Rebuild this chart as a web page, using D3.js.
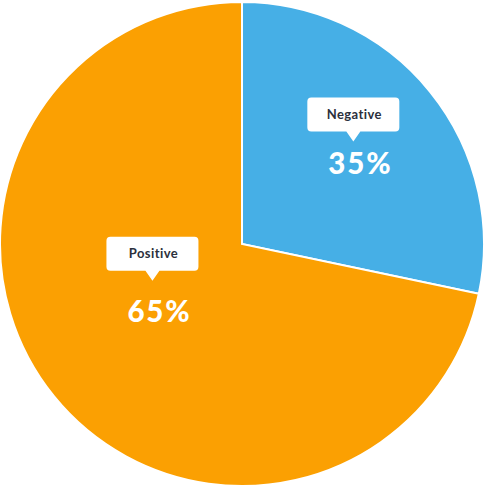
<!DOCTYPE html>
<html><head><meta charset="utf-8">
<script src="https://cdn.jsdelivr.net/npm/d3@7"></script>
<style>html,body{margin:0;padding:0;background:#fff;}svg{display:block;}</style>
</head><body>
<svg id="chart" width="486" height="489"></svg>
<script>
const categories = ["Negative", "Positive"];
const sliceValues = [28.3, 71.7];
const percentLabels = ["35%", "65%"];
const colors = ["#46afe6", "#fba002"];
// label anchor (pointer tip) in polar form: angle in degrees clockwise from top, radius fraction
const labelAngles = [47.4, 247.7];
const labelRadii = [0.625, 0.40];
const percentGaps = [32.5, 41.5];

const W = 486, H = 489;
const cx = 242, cy = 244, R = 242;
const svg = d3.select("#chart");
const g = svg.append("g").attr("transform", `translate(${cx},${cy})`);

const data = categories.map((c, i) => ({cat: c, value: sliceValues[i], pct: percentLabels[i], color: colors[i], la: labelAngles[i], lr: labelRadii[i], gap: percentGaps[i]}));
const pie = d3.pie().value(d => d.value).sort(null);
const arc = d3.arc().innerRadius(0).outerRadius(R);

g.selectAll("path.slice").data(pie(data)).enter().append("path")
  .attr("class", "slice")
  .attr("d", arc)
  .attr("fill", d => d.data.color)
  .attr("stroke", "#fff").attr("stroke-width", 2).attr("stroke-linejoin", "miter");

const rScale = d3.scaleLinear().domain([0, 1]).range([0, R]);
const labels = g.selectAll("g.lab").data(data).enter().append("g").attr("class", "lab")
  .attr("transform", d => {
    const a = d.la * Math.PI / 180, r = rScale(d.lr);
    return `translate(${r * Math.sin(a)},${-r * Math.cos(a)})`;
  });
const bw = 92, bh = 34, ph = 10, pw = 7;
labels.append("path")
  .attr("d", () => {
    const top = -ph - bh, bot = -ph, l = -bw / 2, rr = bw / 2, c = 4;
    return `M${l + c},${top} H${rr - c} Q${rr},${top} ${rr},${top + c} V${bot - c} Q${rr},${bot} ${rr - c},${bot} H${pw} L0,0 L${-pw},${bot} H${l + c} Q${l},${bot} ${l},${bot - c} V${top + c} Q${l},${top} ${l + c},${top} Z`;
  })
  .attr("fill", "#fff");
labels.append("text")
  .attr("x", 1).attr("y", -ph - bh / 2 + 4.5)
  .attr("text-anchor", "middle")
  .attr("font-family", "Lato, 'Open Sans', sans-serif")
  .attr("font-weight", 700).attr("font-size", 13)
  .attr("letter-spacing", 0.4)
  .attr("fill", "#2b303c")
  .text(d => d.cat);
labels.append("text")
  .attr("x", 7).attr("y", d => d.gap)
  .attr("text-anchor", "middle")
  .attr("font-family", "Lato, 'Open Sans', sans-serif")
  .attr("font-weight", 900).attr("font-size", 29.5)
  .attr("letter-spacing", 1.8)
  .attr("fill", "#fff")
  .text(d => d.pct);
</script>
</body></html>
